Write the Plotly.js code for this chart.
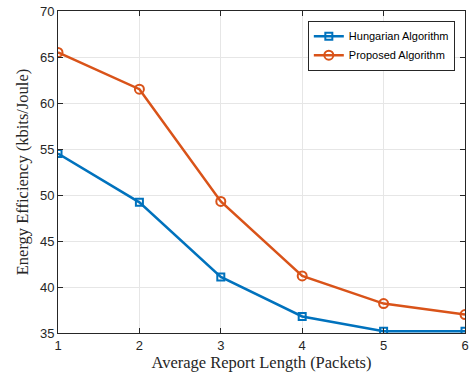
<!DOCTYPE html>
<html><head><meta charset="utf-8">
<script src="https://cdn.plot.ly/plotly-3.0.1.min.js"></script>
<style>html,body{margin:0;padding:0;background:#fff}#c{width:472px;height:374px}</style>
</head><body><div id="c"></div>
<script>
const reportLength = [1, 2, 3, 4, 5, 6];
const hungarian = [54.5, 49.2, 41.1, 36.8, 35.2, 35.2];
const proposed = [65.5, 61.5, 49.3, 41.2, 38.2, 37.0];
const seriesNames = ["Hungarian Algorithm", "Proposed Algorithm"];

const traces = [
  {x: reportLength, y: hungarian, name: seriesNames[0], type: 'scatter', mode: 'lines+markers',
   line: {color: '#0072BD', width: 2.5}, marker: {symbol: 'square-open', size: 7, color: '#0072BD', line: {width: 2}}},
  {x: reportLength, y: proposed, name: seriesNames[1], type: 'scatter', mode: 'lines+markers',
   line: {color: '#D95319', width: 2.5}, marker: {symbol: 'circle-open', size: 9, color: '#D95319', line: {width: 2}}}
];

const axisCommon = {
  showline: true, linecolor: '#262626', linewidth: 1, mirror: 'ticks',
  ticks: 'inside', ticklen: 5, tickcolor: '#262626',
  showgrid: true, gridcolor: '#e6e6e6', gridwidth: 1, zeroline: false,
  tickfont: {family: 'Liberation Sans, Arial, sans-serif', size: 13, color: '#262626'}
};

const layout = {
  width: 472, height: 374,
  margin: {l: 58, r: 7, t: 11, b: 41},
  paper_bgcolor: '#fff', plot_bgcolor: '#fff',
  showlegend: true,
  xaxis: Object.assign({}, axisCommon, {range: [1, 6], dtick: 1,
    title: {text: 'Average Report Length (Packets)', standoff: 3,
      font: {family: 'Liberation Serif, Times New Roman, serif', size: 16.5, color: '#262626'}}}),
  yaxis: Object.assign({}, axisCommon, {range: [35, 70], dtick: 5,
    title: {text: 'Energy Efficiency (kbits/Joule)', standoff: 7,
      font: {family: 'Liberation Serif, Times New Roman, serif', size: 16.5, color: '#262626'}}}),
  legend: {x: 0.975, y: 0.97, xanchor: 'right', yanchor: 'top',
    bgcolor: '#fff', bordercolor: '#262626', borderwidth: 1,
    font: {family: 'Liberation Sans, Arial, sans-serif', size: 11, color: '#000'},
    tracegroupgap: 0}
};

Plotly.newPlot('c', traces, layout, {displayModeBar: false, staticPlot: true});
</script></body></html>
